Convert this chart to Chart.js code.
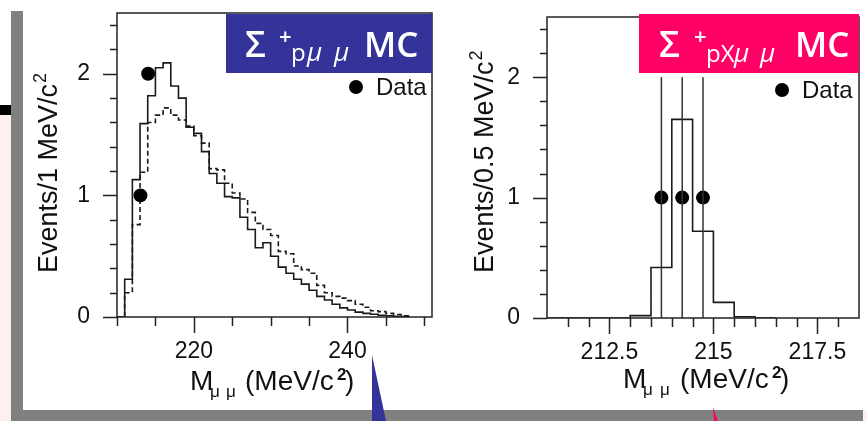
<!DOCTYPE html>
<html>
<head>
<meta charset="utf-8">
<title>Sigma+ -> p mu mu</title>
<script src="https://cdn.jsdelivr.net/npm/chart.js@4.4.1/dist/chart.umd.min.js"></script>
<style>
  html, body { margin: 0; padding: 0; background: #fff; }
  body { width: 867px; height: 421px; position: relative; overflow: hidden; }
  .deco { position: absolute; }
  canvas { position: absolute; top: 0; }
</style>
</head>
<body>
<!-- slide furniture -->
<div class="deco" style="left:0;top:115px;width:11px;height:306px;background:#fff0f0"></div>
<div class="deco" style="left:0;top:105px;width:11px;height:10px;background:#000"></div>
<div class="deco" style="left:11px;top:11px;width:12px;height:410px;background:#808080"></div>
<div class="deco" style="left:11px;top:410px;width:852px;height:11px;background:#808080"></div>
<div class="deco" style="left:863px;top:410px;width:4px;height:11px;background:#fff0f0"></div>
<div class="deco" style="left:371px;top:355px;width:16px;height:66px;background:#333399;clip-path:polygon(1px 0,1px 66px,15px 66px)"></div>
<div class="deco" style="left:712px;top:407px;width:8px;height:14px;background:#ff0066;clip-path:polygon(1px 0,2px 14px,6px 14px)"></div>

<canvas id="left" width="440" height="421" style="left:0;width:440px;height:421px"></canvas>
<canvas id="right" width="427" height="421" style="left:440px;width:427px;height:421px"></canvas>

<script>
// ---- left: Sigma+ -> p mu mu, 1 MeV bins from 210 MeV ----
const leftStart = 210;
const leftBin = 1;
const leftSolid = [0, 0.31, 1.13, 1.59, 1.82, 2.05, 2.09, 1.90, 1.80, 1.56,
  1.51, 1.36, 1.18, 1.10, 0.99, 0.98, 0.82, 0.72, 0.57, 0.61,
  0.50, 0.41, 0.36, 0.31, 0.27, 0.22, 0.17, 0.14, 0.105, 0.075,
  0.057, 0.04, 0.03, 0.022, 0.015, 0.01, 0.006, 0.004];
const leftDashed = [0, 0.20, 0.76, 1.19, 1.60, 1.66, 1.72, 1.66, 1.62, 1.57,
  1.49, 1.43, 1.22, 1.21, 1.10, 1.02, 0.97, 0.86, 0.77, 0.72,
  0.67, 0.54, 0.52, 0.42, 0.39, 0.36, 0.26, 0.20, 0.17, 0.155,
  0.135, 0.105, 0.08, 0.052, 0.044, 0.03, 0.02, 0.01];
const leftDataX = [213.05, 214.05];
const leftDataY = [1, 2];
const leftXTicks = [220, 240];

// ---- right: Sigma+ -> p X, X -> mu mu, 0.5 MeV bins from 211 MeV ----
const rightStart = 211;
const rightBin = 0.5;
const rightMC = [0, 0, 0, 0, 0.02, 0.42, 1.65, 0.72, 0.13, 0.01, 0];
const rightDataX = [213.75, 214.25, 214.75];
const rightDataY = [1, 1, 1];
const rightDataErr = [1, 1, 1];
const rightXTicks = [212.5, 215, 217.5];

const yTicks = [0, 1, 2];

const FONT = "'Liberation Sans', Arial, sans-serif";
const INK = '#1a1a1a';

// histogram as step line: one point per bin left edge, closed at the last edge
function steps(start, w, vals) {
  const pts = vals.map((v, i) => ({ x: start + i * w, y: v }));
  pts.push({ x: start + vals.length * w, y: 0 });
  return pts;
}

function range(a, b, step) {
  const out = [];
  for (let v = a; v <= b + 1e-9; v += step) out.push(+v.toFixed(3));
  return out;
}

function histSet(pts, dash) {
  return {
    type: 'line', data: pts, stepped: 'before', borderColor: INK,
    borderWidth: 1.6, borderDash: dash || [], pointRadius: 0, fill: false
  };
}

function pointSet(xs, ys) {
  return {
    type: 'scatter', data: xs.map((x, i) => ({ x: x, y: ys[i] })),
    pointRadius: 7, pointHoverRadius: 7, backgroundColor: '#000', borderWidth: 0
  };
}

// frame, tick marks, axis titles, legend and the coloured label box
function makeDecor(cfg) {
  return {
    id: 'decor',
    afterDatasetsDraw(chart) {
      const { ctx, scales: { x, y } } = chart;
      if (!cfg.errors) return;
      ctx.save();
      ctx.strokeStyle = '#333';
      ctx.lineWidth = 1.5;
      cfg.errors.x.forEach((xv, i) => {
        const px = x.getPixelForValue(xv);
        ctx.beginPath();
        ctx.moveTo(px, y.getPixelForValue(cfg.errors.y[i] - cfg.errors.e[i]));
        ctx.lineTo(px, y.getPixelForValue(cfg.errors.y[i] + cfg.errors.e[i]));
        ctx.stroke();
      });
      ctx.restore();
    },
    afterDraw(chart) {
      const { ctx, chartArea: a, scales: { x, y } } = chart;
      ctx.save();
      ctx.strokeStyle = '#222';
      ctx.lineWidth = 1.5;
      ctx.strokeRect(a.left, a.top, a.right - a.left, a.bottom - a.top);

      ctx.beginPath();
      cfg.yMinor.forEach(v => {
        const py = Math.round(y.getPixelForValue(v)) + 0.5;
        const len = yTicks.includes(v) ? 14 : 7;
        ctx.moveTo(a.left - len, py); ctx.lineTo(a.left, py);
      });
      cfg.xMinor.forEach(v => {
        const px = Math.round(x.getPixelForValue(v)) + 0.5;
        const len = cfg.xMajor.includes(v) ? 16 : 9;
        ctx.moveTo(px, a.bottom); ctx.lineTo(px, a.bottom + len);
      });
      ctx.stroke();

      // axis titles
      ctx.fillStyle = '#111';
      ctx.textBaseline = 'alphabetic';
      ctx.textAlign = 'left';
      const t = cfg.xTitle;
      ctx.font = '28px ' + FONT;
      ctx.fillText('M', t.m, t.base);
      ctx.font = '17px ' + FONT;
      ctx.fillText('\u03bc', t.mu1, t.base + 7);
      ctx.fillText('\u03bc', t.mu2, t.base + 7);
      ctx.font = '28px ' + FONT;
      ctx.fillText('(MeV/c', t.open, t.base);
      ctx.font = 'bold 17px ' + FONT;
      ctx.fillText('2', t.sup, t.base - 10);
      ctx.font = '28px ' + FONT;
      ctx.fillText(')', t.close, t.base);

      const yt = cfg.yTitle;
      ctx.save();
      ctx.translate(yt.x, yt.y);
      ctx.rotate(-Math.PI / 2);
      ctx.font = '27px ' + FONT;
      ctx.fillText(yt.text, 0, 0);
      const w = ctx.measureText(yt.text).width;
      ctx.font = '18px ' + FONT;
      ctx.fillText('2', w + 1, -11);
      ctx.restore();

      // legend
      const lg = cfg.legend;
      ctx.beginPath();
      ctx.arc(lg.x, lg.y, 7, 0, Math.PI * 2);
      ctx.fillStyle = '#000';
      ctx.fill();
      ctx.fillStyle = '#111';
      ctx.font = '24px ' + FONT;
      ctx.fillText('Data', lg.x + 20, lg.y + 8);

      // coloured label box
      const b = cfg.box;
      ctx.fillStyle = b.color;
      ctx.fillRect(b.x, b.y, b.w, b.h);
      ctx.fillStyle = '#fff';
      b.parts.forEach(p => {
        ctx.font = p[0];
        ctx.fillText(p[1], p[2], p[3]);
      });
      ctx.restore();
    }
  };
}

function axes(xmin, xmax, xTicks, xHeight, yWidth) {
  const tickFont = { family: FONT, size: 23 };
  return {
    x: {
      type: 'linear', min: xmin, max: xmax,
      afterFit: s => { s.height = xHeight; s.paddingLeft = 0; s.paddingRight = 0; },
      afterBuildTicks: s => { s.ticks = xTicks.map(v => ({ value: v })); },
      grid: { display: false, drawTicks: false },
      border: { display: false },
      ticks: { font: tickFont, color: '#111', padding: 21, maxRotation: 0, autoSkip: false,
        callback: v => String(v) }
    },
    y: {
      type: 'linear', min: 0, max: 2.5,
      afterFit: s => { s.width = yWidth; s.paddingTop = 0; s.paddingBottom = 0; },
      afterBuildTicks: s => { s.ticks = yTicks.map(v => ({ value: v })); },
      grid: { display: false, drawTicks: false },
      border: { display: false },
      ticks: { font: tickFont, color: '#111', padding: 27, callback: v => String(v) }
    }
  };
}

const common = {
  responsive: false,
  animation: false,
  devicePixelRatio: 1,
  events: [],
  plugins: { legend: { display: false }, tooltip: { enabled: false } }
};

const boxFont = "'Open Sans', 'DejaVu Sans', sans-serif";

new Chart(document.getElementById('left'), {
  type: 'line',
  data: {
    datasets: [
      pointSet(leftDataX, leftDataY),
      histSet(steps(leftStart, leftBin, leftSolid)),
      histSet(steps(leftStart, leftBin, leftDashed), [5, 3])
    ]
  },
  options: Object.assign({}, common, {
    layout: { padding: { left: 0, top: 13, right: 8, bottom: 0 } },
    scales: axes(210, 251, leftXTicks, 104, 117)
  }),
  plugins: [makeDecor({
    xMajor: leftXTicks,
    xMinor: range(210, 250, 5),
    yMinor: range(0, 2.4, 0.2),
    xTitle: { m: 190, mu1: 210, mu2: 226, open: 245, sup: 337, close: 345, base: 390 },
    yTitle: { text: 'Events/1 MeV/c', x: 57, y: 273 },
    legend: { x: 356, y: 87 },
    box: {
      color: '#333399', x: 226, y: 14, w: 206, h: 59,
      parts: [
        ['600 36px ' + boxFont, '\u03a3', 245, 57],
        ['600 22px ' + boxFont, '+', 279, 44],
        ['24px ' + boxFont, 'p', 291, 61],
        ['italic 26px ' + boxFont, '\u03bc', 307, 61],
        ['italic 26px ' + boxFont, '\u03bc', 334, 61],
        ['600 35px ' + boxFont, 'MC', 364, 57]
      ]
    }
  })]
});

new Chart(document.getElementById('right'), {
  type: 'line',
  data: {
    datasets: [
      pointSet(rightDataX, rightDataY),
      histSet(steps(rightStart, rightBin, rightMC))
    ]
  },
  options: Object.assign({}, common, {
    layout: { padding: { left: 0, top: 17, right: 8, bottom: 0 } },
    scales: axes(211, 218.5, rightXTicks, 103, 107)
  }),
  plugins: [makeDecor({
    xMajor: rightXTicks,
    xMinor: range(211.5, 218, 0.5),
    yMinor: range(0, 2.4, 0.2),
    errors: { x: rightDataX, y: rightDataY, e: rightDataErr },
    xTitle: { m: 183, mu1: 203, mu2: 220, open: 240, sup: 332, close: 340, base: 388 },
    yTitle: { text: 'Events/0.5 MeV/c', x: 53, y: 273 },
    legend: { x: 342, y: 90 },
    box: {
      color: '#ff0066', x: 199, y: 14, w: 220, h: 59,
      parts: [
        ['600 36px ' + boxFont, '\u03a3', 219, 57],
        ['600 22px ' + boxFont, '+', 254, 44],
        ['24px ' + boxFont, 'pX', 266, 62],
        ['italic 26px ' + boxFont, '\u03bc', 294, 62],
        ['italic 26px ' + boxFont, '\u03bc', 320, 62],
        ['600 35px ' + boxFont, 'MC', 355, 57]
      ]
    }
  })]
});
</script>
</body>
</html>
